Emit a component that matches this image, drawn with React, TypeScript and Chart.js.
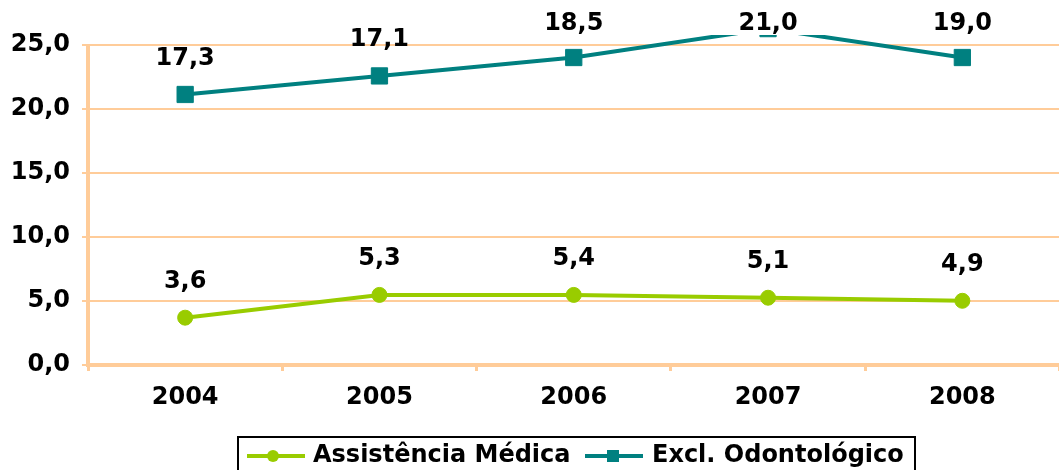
import React, { useEffect, useRef } from "react";
import { Chart, registerables } from "chart.js";

Chart.register(...registerables);

const categories = ["2004", "2005", "2006", "2007", "2008"];
const assistValues = [3.7, 5.48, 5.48, 5.26, 5.02];
const odontoValues = [21.15, 22.6, 24.04, 26.3, 24.04];
const assistLabels = ["3,6", "5,3", "5,4", "5,1", "4,9"];
const odontoLabels = ["17,3", "17,1", "18,5", "21,0", "19,0"];
const yTicks = [0, 5, 10, 15, 20, 25];
const seriesNames = ["Assistência Médica", "Excl. Odontológico"];

const GREEN = "#99CC00";
const TEAL = "#008080";
const PEACH = "#FFCC99";
const FONT = "'DejaVu Sans', Verdana, sans-serif";
const FS = 24;

const axisLinePlugin = {
  id: "yAxisLine",
  beforeDatasetsDraw(chart: any) {
    const ctx = chart.ctx;
    const y = chart.scales.y;
    const x = chart.chartArea.left;
    ctx.save();
    ctx.strokeStyle = PEACH;
    ctx.lineWidth = 4;
    ctx.beginPath();
    ctx.moveTo(x, y.getPixelForValue(yTicks[0]) + 1);
    ctx.lineTo(x, y.getPixelForValue(yTicks[yTicks.length - 1]) - 1);
    ctx.stroke();
    ctx.restore();
  },
};

const labelPlugin = {
  id: "valueLabels",
  afterDatasetsDraw(chart: any) {
    const ctx = chart.ctx;
    const all = [assistLabels, odontoLabels];
    ctx.save();
    ctx.font = `bold ${FS}px ${FONT}`;
    ctx.fillStyle = "#000";
    ctx.textAlign = "center";
    ctx.textBaseline = "middle";
    chart.data.datasets.forEach((ds: any, di: number) => {
      const meta = chart.getDatasetMeta(di);
      meta.data.forEach((pt: any, i: number) => {
        const y = Math.max(pt.y - 36, 24);
        ctx.fillText(all[di][i], pt.x, y);
      });
    });
    ctx.restore();
  },
};

const legendPlugin = {
  id: "boxLegend",
  afterDraw(chart: any) {
    const ctx = chart.ctx;
    ctx.save();
    ctx.fillStyle = "#fff";
    ctx.fillRect(238, 437, 677, 60);
    ctx.strokeStyle = "#000";
    ctx.lineWidth = 2;
    ctx.strokeRect(238, 437, 677, 60);
    const cy = 456;
    ctx.strokeStyle = GREEN;
    ctx.lineWidth = 4;
    ctx.beginPath();
    ctx.moveTo(247, cy);
    ctx.lineTo(305, cy);
    ctx.stroke();
    ctx.fillStyle = GREEN;
    ctx.beginPath();
    ctx.arc(273, cy, 6, 0, Math.PI * 2);
    ctx.fill();
    ctx.strokeStyle = TEAL;
    ctx.beginPath();
    ctx.moveTo(585, cy);
    ctx.lineTo(643, cy);
    ctx.stroke();
    ctx.fillStyle = TEAL;
    ctx.fillRect(607, cy - 6, 12, 12);
    ctx.fillStyle = "#000";
    ctx.font = `bold ${FS}px ${FONT}`;
    ctx.textAlign = "left";
    ctx.textBaseline = "middle";
    ctx.fillText(seriesNames[0], 313, cy);
    ctx.fillText(seriesNames[1], 652, cy);
    ctx.restore();
  },
};

export default function App() {
  const ref = useRef<HTMLCanvasElement>(null);
  useEffect(() => {
    if (!ref.current) return;
    const chart = new Chart(ref.current, {
      type: "line",
      data: {
        labels: categories,
        datasets: [
          {
            label: seriesNames[0],
            data: assistValues,
            borderColor: GREEN,
            backgroundColor: GREEN,
            borderWidth: 4,
            pointStyle: "circle",
            pointRadius: 7.5,
            pointBorderWidth: 1,
            tension: 0,
          },
          {
            label: seriesNames[1],
            data: odontoValues,
            borderColor: TEAL,
            backgroundColor: TEAL,
            borderWidth: 4,
            pointStyle: "rect",
            pointRadius: 11.5,
            pointBorderWidth: 1,
            tension: 0,
          },
        ],
      },
      options: {
        responsive: false,
        animation: false,
        layout: { padding: { top: 35, right: 2, left: 0, bottom: 0 } },
        plugins: { legend: { display: false }, tooltip: { enabled: false } },
        scales: {
          x: {
            offset: true,
            grid: {
              offset: true,
              drawOnChartArea: false,
              drawTicks: true,
              tickLength: 6,
              color: PEACH,
              lineWidth: 3,
            },
            border: { color: PEACH, width: 4 },
            ticks: {
              color: "#000",
              font: { family: FONT, size: FS, weight: "bold" },
              padding: 12,
            },
            afterFit: (s: any) => {
              s.height = 105;
            },
          },
          y: {
            min: 0,
            max: 25.8,
            afterBuildTicks: (s: any) => {
              s.ticks = yTicks.map((v) => ({ value: v }));
            },
            grid: { color: PEACH, lineWidth: 2, tickLength: 6 },
            border: { display: false },
            ticks: {
              color: "#000",
              font: { family: FONT, size: FS, weight: "bold" },
              padding: 12,
              callback: (v: any) => Number(v).toFixed(1).replace(".", ","),
            },
            afterFit: (s: any) => {
              s.width = 88;
            },
          },
        },
      },
      plugins: [axisLinePlugin, labelPlugin, legendPlugin],
    });
    return () => chart.destroy();
  }, []);
  return (
    <div
      style={{
        position: "fixed",
        left: 0,
        top: 0,
        width: 1059,
        height: 470,
        overflow: "hidden",
        background: "#fff",
      }}
    >
      <canvas ref={ref} width={1072} height={470} style={{ width: 1072, height: 470, display: "block" }} />
    </div>
  );
}
